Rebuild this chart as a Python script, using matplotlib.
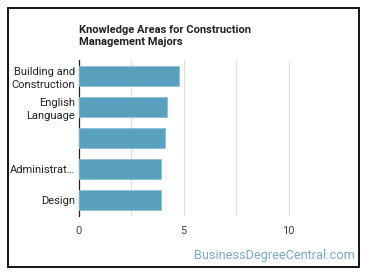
import matplotlib
matplotlib.use("Agg")
import matplotlib.pyplot as plt
from matplotlib.patches import Rectangle

categories = ["Building and\nConstruction", "English\nLanguage", "", "Administrat…", "Design"]
values = [4.79, 4.21, 4.12, 3.93, 3.92]
xticks = [0, 5, 10]
title = "Knowledge Areas for Construction\nManagement Majors"
watermark = "BusinessDegreeCentral.com"

plt.rcParams['font.family'] = ['Roboto', 'DejaVu Sans']

W, H = 370, 278
fig = plt.figure(figsize=(W/100, H/100), dpi=100)
fig.patch.set_facecolor("white")

# border
fig.patches.append(Rectangle((8/W, 1 - 267/H), (359-8)/W, (267-8)/H, transform=fig.transFigure,
                             fill=False, edgecolor="black", linewidth=1.3))

ax_left, ax_right = 79/W, 341/W
ax_top, ax_bottom = 1 - 60/H, 1 - 216/H
ax = fig.add_axes([ax_left, ax_bottom, ax_right - ax_left, ax_top - ax_bottom])

y = list(range(len(categories)))
ax.barh(y, values, height=0.64, color="#5aa0bf", edgecolor="#8cc0d6", linewidth=0.6, zorder=3)
ax.set_ylim(len(categories) - 0.5, -0.5)
ax.set_xlim(0, 12.5)
ax.set_yticks(y)
ax.set_yticklabels(categories, fontsize=8.0, color="#222222", linespacing=1.4)
ax.set_xticks(xticks)
ax.set_xticklabels([str(t) for t in xticks], fontsize=8.0, color="#444444")
ax.set_xticks([2.5, 7.5], minor=True)
ax.grid(True, axis="x", which="both", color="#dddddd", linewidth=0.8, zorder=0)
ax.tick_params(axis="both", which="both", length=0, pad=3)
ax.tick_params(axis="x", pad=7)
for s in ["top", "right", "bottom"]:
    ax.spines[s].set_visible(False)
ax.spines["left"].set_color("#222222")
ax.spines["left"].set_linewidth(0.9)

fig.text(79/W, 1 - 36/H, title, fontsize=8.0, fontweight="bold", color="#222222",
         ha="left", va="center", linespacing=1.35)
fig.text(355/W, 1 - 256/H, watermark, fontsize=9.2, color="#7aaac4", ha="right", va="center")

fig.savefig("out.png", dpi=100, facecolor="white")
